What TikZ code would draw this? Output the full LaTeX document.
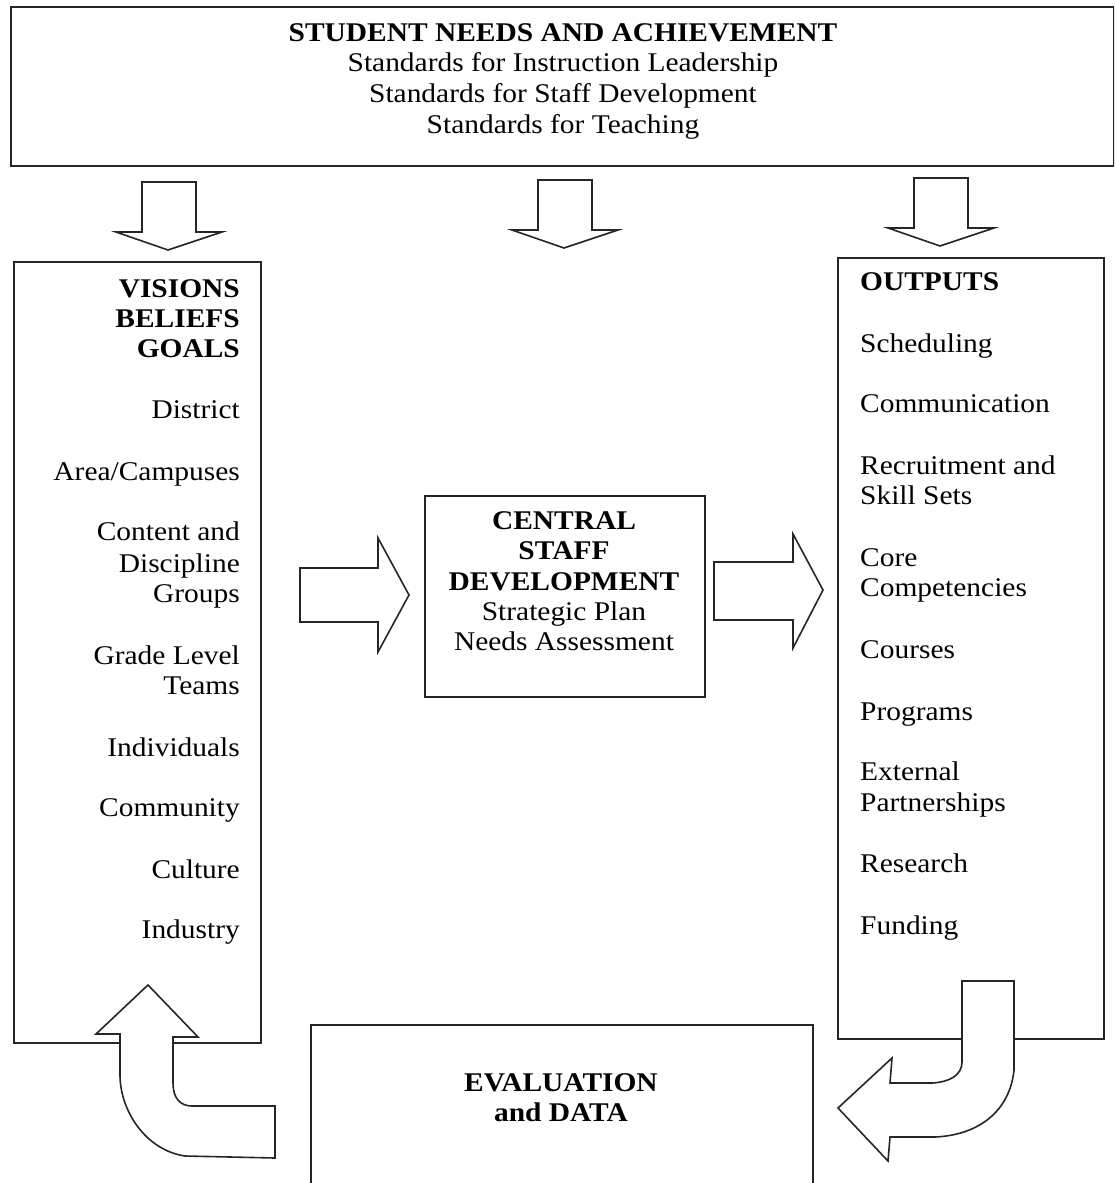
\documentclass[tikz,border=0pt]{standalone}
\usepackage{fontspec}
\setmainfont[FakeStretch=1.09]{Liberation Serif}
\begin{document}
\begin{tikzpicture}[x=1pt,y=-1pt,
  boxline/.style={draw=black!85, line width=1.6pt},
  frame/.style={boxline, fill=white, inner sep=0pt, anchor=north west},
  blockarrow/.style={draw=black!85, fill=white, line width=1.6pt, line join=miter},
  txt/.style={inner sep=0pt, font=\fontsize{27}{31}\selectfont},
  btxt/.style={txt, font=\fontsize{27}{31}\selectfont\bfseries},
  lt/.style={txt, anchor=base east},
  rt/.style={txt, anchor=base west},
  ct/.style={txt, anchor=base},
  lb/.style={btxt, anchor=base east},
  rb/.style={btxt, anchor=base west},
  cb/.style={btxt, anchor=base}]
\clip (0,0) rectangle (1114,1183);
\fill[white] (0,0) rectangle (1114,1183);

% boxes
\node[frame, minimum width=1103pt, minimum height=159pt] (top) at (10,6) {};
\node[frame, minimum width=247pt, minimum height=781pt] (vis) at (13,261) {};
\node[frame, minimum width=266pt, minimum height=781pt] (out) at (837,257) {};
\node[frame, minimum width=280pt, minimum height=201pt] (csd) at (424,495) {};
\node[frame, minimum width=502pt, minimum height=200pt] (eval) at (310,1024) {};

% header text
\node[cb] (t0) at (563,41) {STUDENT NEEDS AND ACHIEVEMENT};
\node[ct] (t1) at (563,71) {Standards for Instruction Leadership};
\node[ct] (t2) at (563,102) {Standards for Staff Development};
\node[ct] (t3) at (563,133) {Standards for Teaching};

% downward block arrows
\draw[blockarrow] (142,182) -- (196,182) -- (196,232) -- (222,232) -- (168,250)
  -- (116,232) -- (142,232) -- cycle;
\draw[blockarrow] (538,180) -- (592,180) -- (592,230) -- (618,230) -- (564,248)
  -- (512,230) -- (538,230) -- cycle;
\draw[blockarrow] (914,178) -- (968,178) -- (968,228) -- (994,228) -- (940,246)
  -- (888,228) -- (914,228) -- cycle;

% left column
\node[lb] (v1) at (240,297) {VISIONS};
\node[lb] (v2) at (240,327) {BELIEFS};
\node[lb] (v3) at (240,357) {GOALS};
\node[lt] (v4) at (240,418) {District};
\node[lt] (v5) at (240,480) {Area/Campuses};
\node[lt] (v6) at (240,540) {Content and};
\node[lt] (v7) at (240,572) {Discipline};
\node[lt] (v8) at (240,602) {Groups};
\node[lt] (v9) at (240,664) {Grade Level};
\node[lt] (v10) at (240,694) {Teams};
\node[lt] (v11) at (240,756) {Individuals};
\node[lt] (v12) at (240,816) {Community};
\node[lt] (v13) at (240,878) {Culture};
\node[lt] (v14) at (240,938) {Industry};

% right column
\node[rb] (o1) at (860,290) {OUTPUTS};
\node[rt] (o2) at (860,352) {Scheduling};
\node[rt] (o3) at (860,412) {Communication};
\node[rt] (o4) at (860,474) {Recruitment and};
\node[rt] (o5) at (860,504) {Skill Sets};
\node[rt] (o6) at (860,566) {Core};
\node[rt] (o7) at (860,596) {Competencies};
\node[rt] (o8) at (860,658) {Courses};
\node[rt] (o9) at (860,720) {Programs};
\node[rt] (o10) at (860,780) {External};
\node[rt] (o11) at (860,811) {Partnerships};
\node[rt] (o12) at (860,872) {Research};
\node[rt] (o13) at (860,934) {Funding};

% centre box text
\node[cb] (c1) at (564,529) {CENTRAL};
\node[cb] (c2) at (564,559) {STAFF};
\node[cb] (c3) at (564,590) {DEVELOPMENT};
\node[ct] (c4) at (564,620) {Strategic Plan};
\node[ct] (c5) at (564,650) {Needs Assessment};

% horizontal block arrows
\draw[blockarrow] (300,568) -- (378,568) -- (378,538) -- (409,595) -- (378,652)
  -- (378,622) -- (300,622) -- cycle;
\draw[blockarrow] (714,562) -- (793,562) -- (793,534) -- (823,590) -- (793,648)
  -- (793,620) -- (714,620) -- cycle;

% evaluation text
\node[cb] (e1) at (561,1091) {EVALUATION};
\node[cb] (e2) at (561,1121) {and DATA};

% curved return arrows
\draw[blockarrow] (148,985) -- (198,1037) -- (173,1037) -- (173,1083)
  .. controls (173,1098) and (180,1106) .. (192,1106) -- (275,1106) -- (275,1158)
  -- (185,1156) .. controls (145,1150) and (120,1110) .. (120,1075)
  -- (120,1034) -- (96,1034) -- cycle;
\draw[blockarrow] (962,981) -- (1014,981) -- (1014,1070)
  .. controls (1010,1110) and (980,1135) .. (935,1137) -- (890,1137)
  -- (888,1161) -- (838,1108) -- (892,1058) -- (890,1083) -- (932,1083)
  .. controls (950,1082) and (962,1075) .. (962,1062) -- cycle;
\end{tikzpicture}
\end{document}
